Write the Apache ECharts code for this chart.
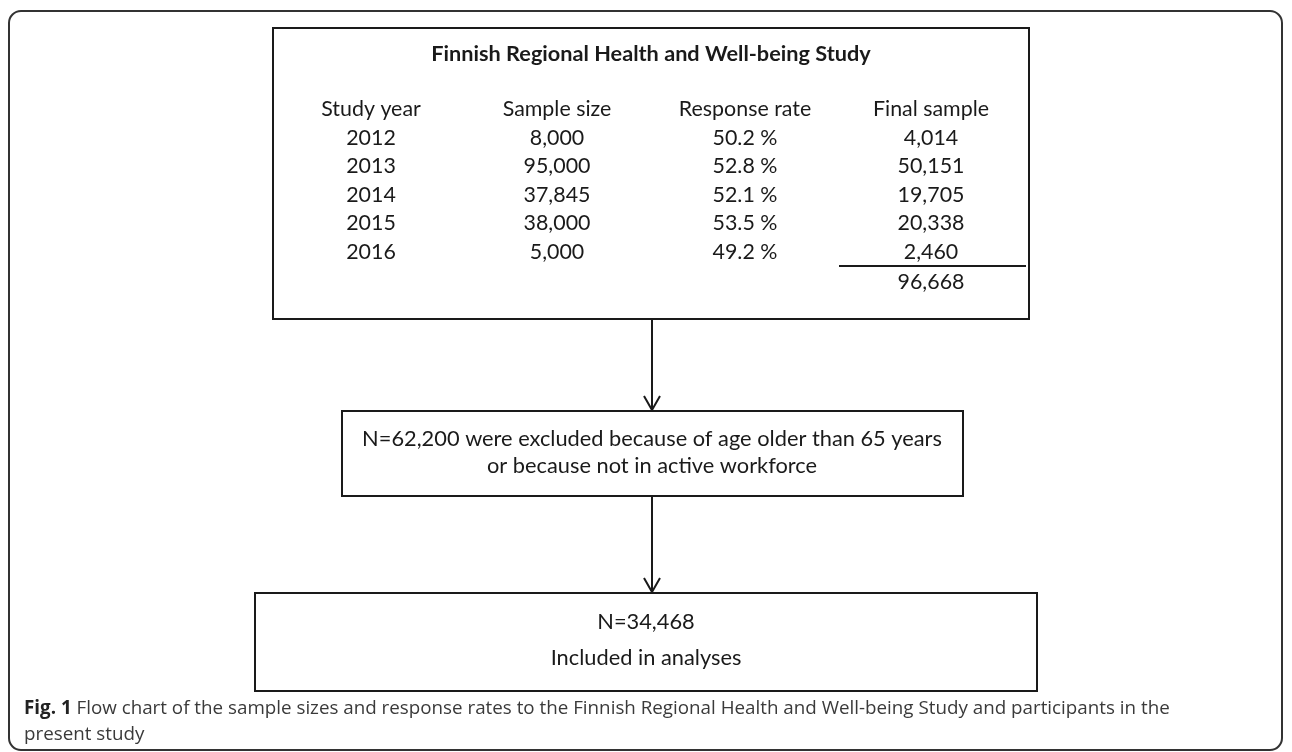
<!DOCTYPE html>
<html>
<head>
<meta charset="utf-8">
<script src="https://cdn.jsdelivr.net/npm/echarts@6/dist/echarts.min.js"></script>
<style>
  html, body { margin: 0; padding: 0; background: #fff; }
  #chart { width: 1292px; height: 752px; }
</style>
</head>
<body>
<div id="chart"></div>
<script>
// table data
const title = 'Finnish Regional Health and Well-being Study'
const headers = ['Study year', 'Sample size', 'Response rate', 'Final sample']
const years = [2012, 2013, 2014, 2015, 2016]
const sampleSizes = [8000, 95000, 37845, 38000, 5000]
const responseRates = [50.2, 52.8, 52.1, 53.5, 49.2]
const finalSamples = [4014, 50151, 19705, 20338, 2460]
const totalSample = 96668
const excluded = 62200
const included = 34468
const captionBold = 'Fig. 1'
const captionLines = [
  ' Flow chart of the sample sizes and response rates to the Finnish Regional Health and Well-being Study and participants in the',
  'present study',
]

const FONT = 'Lato, "Open Sans", sans-serif'
const CAP_FONT = '"Open Sans", sans-serif'
const INK = '#1a1a1a'

// pick a font size so a string spans a measured width
const ctx = document.createElement('canvas').getContext('2d')
function fit(text, weight, family, width, k = 1) {
  ctx.font = weight + ' 100px ' + family
  return Math.round(100 * width / ctx.measureText(text).width * k * 10) / 10
}

const fmt = n => n.toLocaleString('en-US')

const titleSize = fit(title, 'bold', FONT, 439)
const cellSize = fit(headers[0], 'normal', FONT, 97, 1.03)
const boxSize = fit('N=' + fmt(excluded) + ' were excluded because of age older than 65 years', 'normal', FONT, 580)
const capSize = fit(captionBold + captionLines[0], 'normal', CAP_FONT, 1142)

function txt(x, y, text, size, opts = {}) {
  return {
    type: 'text', x, y, silent: true,
    style: Object.assign({
      text, fill: INK, fontSize: size, fontFamily: FONT,
      align: 'center', verticalAlign: 'middle',
    }, opts),
  }
}
function box(x, y, w, h) {
  return {
    type: 'rect', shape: { x, y, width: w, height: h },
    style: { fill: 'none', stroke: INK, lineWidth: 2 },
  }
}
function arrow(x, y1, y2) {
  return [
    { type: 'line', shape: { x1: x, y1, x2: x, y2 }, style: { stroke: INK, lineWidth: 2 } },
    { type: 'polyline', shape: { points: [[x - 8, y2 - 15], [x, y2 - 1], [x + 8, y2 - 15]] },
      style: { fill: 'none', stroke: INK, lineWidth: 2 } },
  ]
}

const colX = [371, 557, 745, 931]
const headY = 109
const rowY = [138, 166.5, 195, 223.5, 252]

const els = []
// outer frame
els.push({
  type: 'rect', shape: { x: 9, y: 11, width: 1273, height: 739, r: 12 },
  style: { fill: 'none', stroke: '#333', lineWidth: 2 },
})
// top box with table
els.push(box(273, 28, 756, 291))
els.push(txt(651, 54, title, titleSize, { fontWeight: 'bold' }))
headers.forEach((h, i) => els.push(txt(colX[i], headY, h, cellSize)))
years.forEach((y, i) => {
  els.push(txt(colX[0], rowY[i], String(y), cellSize))
  els.push(txt(colX[1], rowY[i], fmt(sampleSizes[i]), cellSize))
  els.push(txt(colX[2], rowY[i], responseRates[i].toFixed(1) + ' %', cellSize))
  els.push(txt(colX[3], rowY[i], fmt(finalSamples[i]), cellSize))
})
els.push({ type: 'line', shape: { x1: 839, y1: 266, x2: 1026, y2: 266 }, style: { stroke: INK, lineWidth: 2 } })
els.push(txt(colX[3], 282, fmt(totalSample), cellSize))

// arrows and lower boxes
els.push(...arrow(652, 320, 411))
els.push(box(342, 411, 621, 85))
els.push(txt(652, 439, 'N=' + fmt(excluded) + ' were excluded because of age older than 65 years', boxSize))
els.push(txt(652, 466, 'or because not in active workforce', boxSize))

els.push(...arrow(652, 496, 593))
els.push(box(255, 593, 782, 98))
els.push(txt(646, 622, 'N=' + fmt(included), boxSize))
els.push(txt(646, 658, 'Included in analyses', boxSize))

// caption
els.push({
  type: 'text', x: 24, y: 709, silent: true,
  style: {
    text: '{b|' + captionBold + '}' + captionLines[0],
    fill: '#3a3a3a', fontSize: capSize, fontFamily: CAP_FONT, verticalAlign: 'middle',
    rich: { b: { fontWeight: 'bold', fontSize: capSize, fontFamily: CAP_FONT, fill: '#222' } },
  },
})
els.push({
  type: 'text', x: 24, y: 735, silent: true,
  style: { text: captionLines[1], fill: '#3a3a3a', fontSize: capSize, fontFamily: CAP_FONT, verticalAlign: 'middle' },
})

const chart = echarts.init(document.getElementById('chart'))
chart.setOption({
  animation: false,
  backgroundColor: '#fff',
  graphic: { elements: els },
})
</script>
</body>
</html>
